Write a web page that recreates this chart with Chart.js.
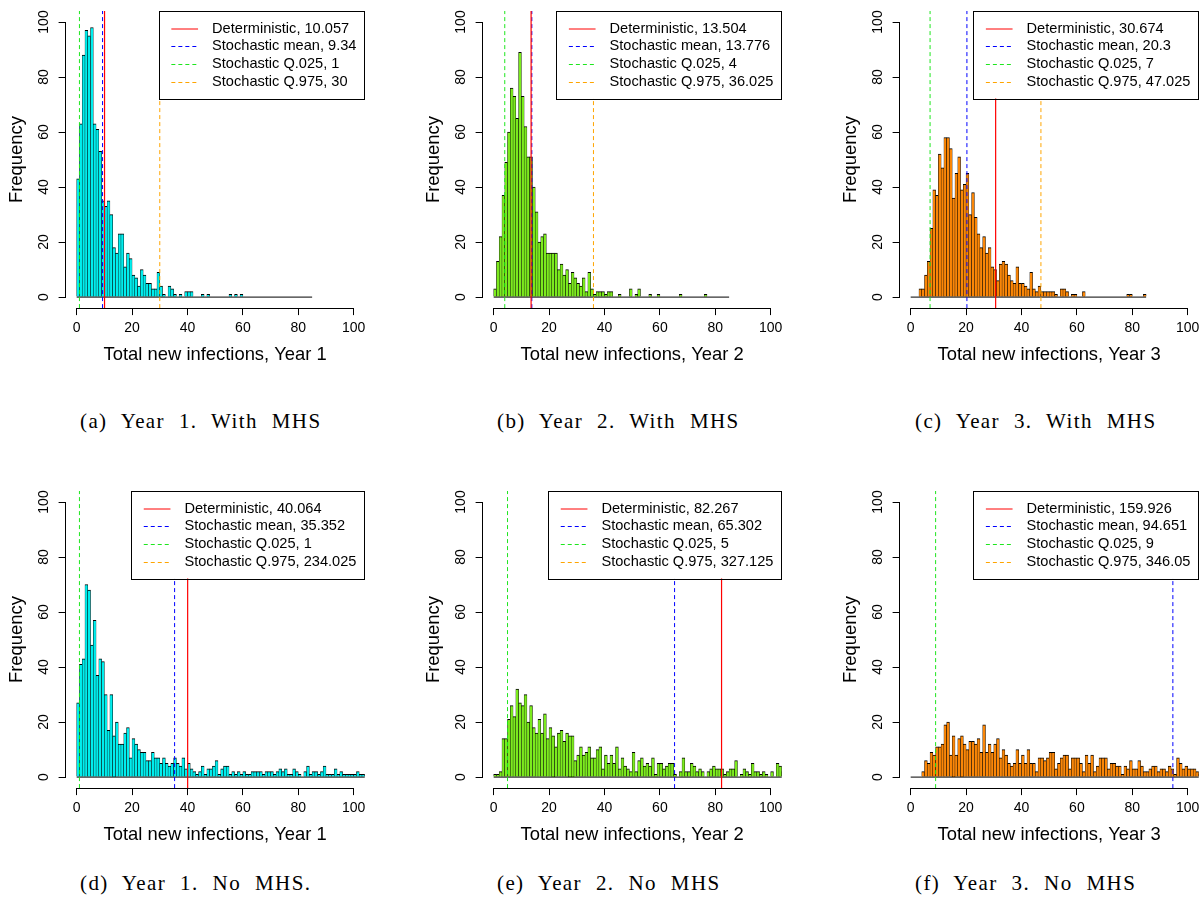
<!DOCTYPE html>
<html>
<head>
<meta charset="utf-8">
<title>Total new infections</title>
<script src="https://cdn.jsdelivr.net/npm/chart.js@4.4.1/dist/chart.umd.min.js"></script>
<style>
  html, body { margin: 0; padding: 0; background: #fff; }
  body { width: 1204px; height: 918px; position: relative; overflow: hidden; }
  canvas { position: absolute; }
  .caption {
    position: absolute;
    font-family: 'Liberation Serif', 'DejaVu Serif', serif;
    font-size: 21px;
    letter-spacing: 1.4px;
    word-spacing: 7.3px;
    color: #000;
    white-space: nowrap;
    line-height: 24px;
  }
</style>
</head>
<body>
<script>
// histogram counts, bin i covers [i, i + 1)
const countsY1Mhs = [
  43, 63, 88, 97, 95, 98, 63, 61, 53, 35,
  33, 35, 30, 18, 16, 23, 23, 11, 16, 14,
  8, 7, 4, 10, 8, 5, 5, 3, 3, 9,
  4, 1, 0, 4, 3, 1, 0, 1, 0, 2,
  2, 2, 0, 0, 0, 1, 0, 1, 0, 0,
  0, 0, 0, 0, 0, 1, 0, 1, 0, 1,
  0, 0, 0, 0, 0, 0, 0, 0, 0, 0,
  0, 0, 0, 0, 0, 0, 0, 0, 0, 0,
  0, 0, 0, 0, 0
];
const countsY2Mhs = [
  3, 13, 22, 37, 49, 60, 76, 73, 65, 89,
  73, 62, 51, 51, 40, 31, 20, 22, 23, 16,
  16, 16, 16, 10, 12, 8, 10, 5, 9, 7,
  5, 4, 7, 2, 9, 3, 1, 2, 2, 2,
  1, 2, 2, 0, 0, 1, 0, 0, 0, 3,
  0, 1, 3, 0, 0, 0, 1, 0, 0, 1,
  0, 0, 0, 0, 0, 0, 0, 1, 0, 0,
  0, 0, 0, 0, 0, 0, 1, 0, 0, 0,
  0, 0, 0, 0, 0
];
const countsY3Mhs = [
  0, 0, 0, 3, 3, 8, 13, 25, 39, 37,
  52, 47, 58, 58, 54, 36, 45, 51, 39, 41,
  45, 30, 38, 29, 23, 18, 22, 16, 18, 11,
  10, 6, 12, 13, 12, 8, 6, 5, 11, 5,
  5, 4, 3, 9, 3, 2, 4, 2, 2, 2,
  2, 2, 1, 0, 3, 3, 2, 0, 1, 1,
  0, 0, 2, 0, 0, 0, 0, 0, 0, 0,
  0, 0, 0, 0, 0, 0, 0, 0, 1, 1,
  0, 0, 0, 0, 1
];
const countsY1NoMhs = [
  27, 41, 43, 70, 68, 48, 57, 37, 43, 42,
  30, 17, 30, 15, 20, 12, 12, 16, 18, 7,
  14, 12, 10, 9, 9, 6, 6, 9, 7, 7,
  5, 7, 5, 4, 5, 7, 5, 4, 7, 3,
  5, 3, 2, 1, 2, 4, 1, 3, 3, 4,
  6, 1, 3, 4, 4, 1, 2, 1, 2, 1,
  2, 1, 1, 2, 2, 2, 2, 1, 2, 2,
  2, 1, 2, 3, 2, 3, 1, 1, 3, 2,
  1, 0, 2, 4, 1, 2, 2, 1, 2, 4,
  1, 1, 1, 3, 1, 2, 1, 1, 1, 1,
  1, 2, 1, 1, 1
];
const countsY2NoMhs = [
  1, 1, 2, 14, 14, 21, 26, 22, 32, 27,
  26, 30, 20, 26, 18, 16, 21, 16, 23, 14,
  18, 15, 11, 16, 17, 13, 16, 15, 15, 6,
  8, 11, 8, 9, 11, 7, 7, 10, 11, 3,
  8, 5, 8, 5, 11, 3, 7, 4, 3, 2,
  9, 2, 6, 7, 4, 5, 4, 7, 1, 5,
  5, 3, 4, 5, 5, 1, 0, 2, 7, 2,
  2, 5, 4, 2, 3, 2, 0, 2, 3, 4,
  3, 3, 3, 1, 2, 3, 3, 6, 0, 1,
  3, 2, 1, 5, 2, 2, 1, 2, 1, 0,
  2, 0, 5, 4, 2
];
const countsY3NoMhs = [
  0, 0, 0, 0, 2, 6, 5, 9, 8, 11,
  11, 12, 19, 20, 8, 15, 8, 14, 15, 12,
  10, 13, 13, 12, 14, 9, 19, 9, 12, 9,
  12, 14, 7, 10, 8, 5, 4, 5, 10, 5,
  8, 5, 10, 5, 5, 2, 7, 7, 6, 7,
  9, 9, 3, 5, 7, 8, 8, 3, 7, 7,
  7, 5, 2, 8, 5, 8, 2, 4, 7, 7,
  7, 3, 5, 5, 4, 4, 1, 4, 3, 6,
  3, 3, 6, 4, 2, 2, 3, 4, 4, 2,
  3, 3, 2, 4, 3, 1, 7, 5, 3, 4,
  3, 3, 3, 2, 1
];

const binWidth = 1;
const xTickValues = [0, 20, 40, 60, 80, 100];
const yTickValues = [0, 20, 40, 60, 80, 100];
const axisMin = -4;   // 0..100 with base R's 4% margin on each side
const axisMax = 104;

// reference values per panel: a, b, c, d, e, f
const deterministic = [10.057, 13.504, 30.674, 40.064, 82.267, 159.926];
const stochMean = [9.34, 13.776, 20.3, 35.352, 65.302, 94.651];
const stochQ025 = [1, 4, 7, 1, 5, 9];
const stochQ975 = [30, 36.025, 47.025, 234.025, 327.125, 346.05];
const yearOf = [1, 2, 3, 1, 2, 3];
const captions = [
  '(a) Year 1. With MHS', '(b) Year 2. With MHS', '(c) Year 3. With MHS',
  '(d) Year 1. No MHS.', '(e) Year 2. No MHS', '(f) Year 3. No MHS'
];

const panels = [
  { counts: countsY1Mhs, fill: '#00EEEE', left: 0, top: 0 },
  { counts: countsY2Mhs, fill: '#7CEB1E', left: 417, top: 0 },
  { counts: countsY3Mhs, fill: '#FA8607', left: 834, top: 0 },
  { counts: countsY1NoMhs, fill: '#00EEEE', left: 0, top: 480 },
  { counts: countsY2NoMhs, fill: '#7CEB1E', left: 417, top: 480 },
  { counts: countsY3NoMhs, fill: '#FA8607', left: 834, top: 480 }
];
const captionPos = [
  { left: 80, top: 409 }, { left: 497, top: 409 }, { left: 915, top: 409 },
  { left: 80, top: 871 }, { left: 497, top: 871 }, { left: 915, top: 871 }
];

Chart.defaults.font.family = "'Liberation Sans', Arial, Helvetica, sans-serif";
Chart.defaults.color = '#000';

const FONT = "'Liberation Sans', Arial, Helvetica, sans-serif";

// base R style axis lines: only from first to last tick
const rAxisLines = {
  id: 'rAxisLines',
  afterDraw(chart) {
    const { ctx, chartArea, scales: { x, y } } = chart;
    const align = p => Math.round(p - 0.5) + 0.5;
    ctx.save();
    ctx.strokeStyle = '#000';
    ctx.lineWidth = 1;
    ctx.beginPath();
    const yb = align(chartArea.bottom);
    ctx.moveTo(align(x.getPixelForValue(xTickValues[0])), yb);
    ctx.lineTo(align(x.getPixelForValue(xTickValues[xTickValues.length - 1])), yb);
    const xl = align(chartArea.left);
    ctx.moveTo(xl, align(y.getPixelForValue(yTickValues[0])));
    ctx.lineTo(xl, align(y.getPixelForValue(yTickValues[yTickValues.length - 1])));
    ctx.stroke();
    ctx.restore();
  }
};

// boxed legend in the top-right corner of the plot region
const rLegend = {
  id: 'rLegend',
  afterDraw(chart) {
    const { ctx, chartArea } = chart;
    const items = chart.data.datasets.filter(d => d.label);
    const padL = 12.7, segLen = 26.7, gap = 14, padR = 8.3;
    const padT = 17.7, rowH = 17.6, padB = 17;
    ctx.save();
    ctx.font = '14.6px ' + FONT;
    const textW = Math.max(...items.map(d => ctx.measureText(d.label).width));
    const boxW = padL + segLen + gap + textW + padR;
    const boxH = padT + rowH * (items.length - 1) + padB;
    const left = chartArea.right - boxW;
    const top = chartArea.top;
    ctx.fillStyle = '#fff';
    ctx.fillRect(left, top, boxW, boxH);
    ctx.strokeStyle = '#000';
    ctx.lineWidth = 1;
    ctx.strokeRect(Math.round(left) + 0.5, Math.round(top) + 0.5, Math.round(boxW) - 1, Math.round(boxH));
    items.forEach((d, k) => {
      const ry = top + padT + rowH * k;
      const dashed = d.borderDash && d.borderDash.length;
      const ly = dashed ? Math.round(ry) + 0.5 : Math.round(ry);
      ctx.beginPath();
      ctx.setLineDash(d.borderDash || []);
      ctx.strokeStyle = d.borderColor;
      ctx.moveTo(left + padL, ly);
      ctx.lineTo(left + padL + segLen, ly);
      ctx.stroke();
      ctx.setLineDash([]);
      ctx.fillStyle = '#000';
      ctx.textBaseline = 'middle';
      ctx.textAlign = 'left';
      ctx.fillText(d.label, left + padL + segLen + gap, ry);
    });
    ctx.restore();
  }
};

function vline(v) {
  return [{ x: v, y: axisMin }, { x: v, y: axisMax }];
}

function buildPanel(p, i) {
  const canvas = document.createElement('canvas');
  canvas.width = 370;
  canvas.height = 380;
  canvas.style.left = p.left + 'px';
  canvas.style.top = p.top + 'px';
  document.body.appendChild(canvas);

  const bars = p.counts.map((c, k) => ({ x: k * binWidth + binWidth / 2, y: c }));
  const refLines = [
    { label: 'Deterministic, ' + deterministic[i], value: deterministic[i], color: '#FF0000', dash: [] },
    { label: 'Stochastic mean, ' + stochMean[i], value: stochMean[i], color: '#0000FF', dash: [4, 3] },
    { label: 'Stochastic Q.025, ' + stochQ025[i], value: stochQ025[i], color: '#1EE61E', dash: [4, 3] },
    { label: 'Stochastic Q.975, ' + stochQ975[i], value: stochQ975[i], color: '#FFA500', dash: [4, 3] }
  ];

  new Chart(canvas, {
    type: 'bar',
    data: {
      datasets: [
        {
          type: 'bar',
          data: bars,
          backgroundColor: p.fill,
          borderColor: '#000',
          borderWidth: { top: 1, left: 0.5, right: 0.5, bottom: 0 },
          borderSkipped: false,
          barPercentage: 1,
          categoryPercentage: 1,
          order: 3
        },
        {
          // zero-height bins still show as a line on the baseline
          type: 'line',
          data: [{ x: 0, y: 0 }, { x: p.counts.length * binWidth, y: 0 }],
          borderColor: '#000',
          borderWidth: 1,
          pointRadius: 0,
          order: 2
        },
        ...refLines.map(r => ({
          type: 'line',
          label: r.label,
          data: vline(r.value),
          borderColor: r.color,
          borderDash: r.dash,
          borderWidth: r.dash.length ? 1 : 1.2,
          pointRadius: 0,
          order: 1
        }))
      ]
    },
    options: {
      responsive: false,
      animation: false,
      events: [],
      layout: { padding: { left: 0, top: 7.9, right: 3.9, bottom: 0 } },
      plugins: { legend: { display: false }, tooltip: { enabled: false } },
      scales: {
        x: {
          type: 'linear',
          min: axisMin,
          max: axisMax,
          offset: false,
          afterBuildTicks: s => { s.ticks = xTickValues.map(v => ({ value: v })); },
          afterFit: s => { s.height = 71.9; },
          grid: { offset: false, drawOnChartArea: false, drawTicks: true, tickLength: 7, color: '#000', lineWidth: 1 },
          border: { display: false },
          ticks: { autoSkip: false, maxRotation: 0, font: { size: 14 }, padding: 4.5, color: '#000' },
          title: {
            display: true,
            text: 'Total new infections, Year ' + yearOf[i],
            font: { size: 18.4 },
            padding: { top: 0, bottom: 14.5 },
            color: '#000'
          }
        },
        y: {
          type: 'linear',
          min: axisMin,
          max: axisMax,
          afterBuildTicks: s => { s.ticks = yTickValues.map(v => ({ value: v })); },
          afterFit: s => { s.width = 65.6; },
          grid: { drawOnChartArea: false, drawTicks: true, tickLength: 7, color: '#000', lineWidth: 1 },
          border: { display: false },
          ticks: { autoSkip: false, minRotation: 90, maxRotation: 90, crossAlign: 'center', font: { size: 14 }, padding: 2.6, color: '#000' },
          title: {
            display: true,
            text: 'Frequency',
            font: { size: 18.4 },
            padding: { top: 6, bottom: 0 },
            color: '#000'
          }
        }
      }
    },
    plugins: [rAxisLines, rLegend]
  });
}

panels.forEach(buildPanel);

captions.forEach((text, i) => {
  const div = document.createElement('div');
  div.className = 'caption';
  div.textContent = text;
  div.style.left = captionPos[i].left + 'px';
  div.style.top = captionPos[i].top + 'px';
  document.body.appendChild(div);
});
</script>
</body>
</html>
